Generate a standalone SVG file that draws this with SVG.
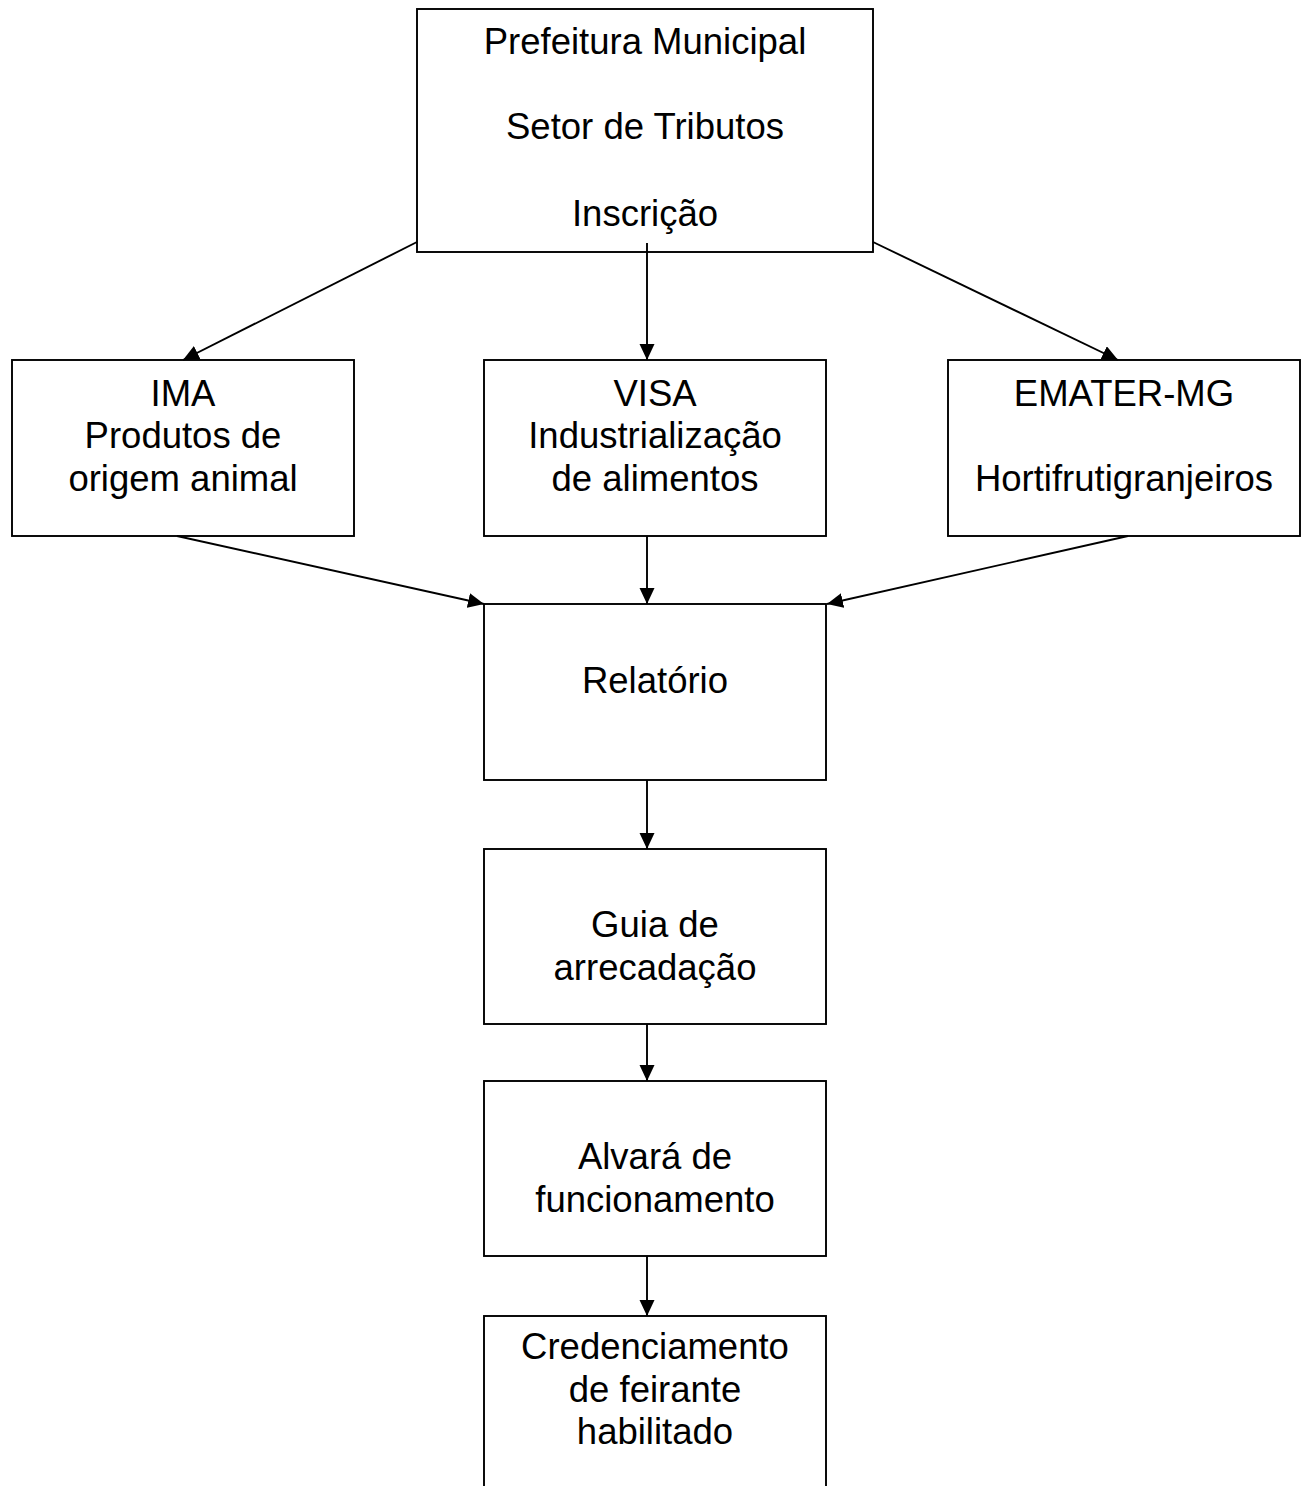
<svg xmlns="http://www.w3.org/2000/svg" width="1305" height="1486" viewBox="0 0 1305 1486">
<style>
.box{fill:#fff;stroke:#000;stroke-width:1.9}
.t{font-family:"Liberation Sans",Arial,sans-serif;font-size:36.5px;fill:#000;text-anchor:middle}
.c{stroke:#000;stroke-width:1.9;fill:none;marker-end:url(#ah)}
</style>
<defs>
<marker id="ah" markerUnits="userSpaceOnUse" markerWidth="18" markerHeight="16" refX="16" refY="7.5" orient="auto">
<path d="M0,0 L16,7.5 L0,15 Z" fill="#000"/>
</marker>
</defs>
<rect width="1305" height="1486" fill="#fff"/>
<g id="n-prefeitura">
<rect class="box" x="417" y="9" width="456" height="243"/>
<text class="t" x="645" y="54">Prefeitura Municipal</text>
<text class="t" x="645" y="139">Setor de Tributos</text>
<text class="t" x="645" y="226">Inscrição</text>
</g>
<g id="n-ima">
<rect class="box" x="12" y="360" width="342" height="176"/>
<text class="t" x="183" y="406">IMA</text>
<text class="t" x="183" y="448">Produtos de</text>
<text class="t" x="183" y="491">origem animal</text>
</g>
<g id="n-visa">
<rect class="box" x="484" y="360" width="342" height="176"/>
<text class="t" x="655" y="406">VISA</text>
<text class="t" x="655" y="448">Industrialização</text>
<text class="t" x="655" y="491">de alimentos</text>
</g>
<g id="n-emater">
<rect class="box" x="948" y="360" width="352" height="176"/>
<text class="t" x="1124" y="406">EMATER-MG</text>
<text class="t" x="1124" y="491">Hortifrutigranjeiros</text>
</g>
<g id="n-relatorio">
<rect class="box" x="484" y="604" width="342" height="176"/>
<text class="t" x="655" y="693">Relatório</text>
</g>
<g id="n-guia">
<rect class="box" x="484" y="849" width="342" height="175"/>
<text class="t" x="655" y="937">Guia de</text>
<text class="t" x="655" y="980">arrecadação</text>
</g>
<g id="n-alvara">
<rect class="box" x="484" y="1081" width="342" height="175"/>
<text class="t" x="655" y="1169">Alvará de</text>
<text class="t" x="655" y="1212">funcionamento</text>
</g>
<g id="n-credenciamento">
<rect class="box" x="484" y="1316" width="342" height="190"/>
<text class="t" x="655" y="1359">Credenciamento</text>
<text class="t" x="655" y="1402">de feirante</text>
<text class="t" x="655" y="1444">habilitado</text>
</g>
<g id="connectors">
<line class="c" x1="417" y1="242" x2="183" y2="360"/>
<line class="c" x1="647" y1="243" x2="647" y2="360"/>
<line class="c" x1="873" y1="242" x2="1118" y2="360"/>
<line class="c" x1="177" y1="536" x2="484" y2="604"/>
<line class="c" x1="647" y1="536" x2="647" y2="604"/>
<line class="c" x1="1128" y1="536" x2="827" y2="604"/>
<line class="c" x1="647" y1="780" x2="647" y2="849"/>
<line class="c" x1="647" y1="1024" x2="647" y2="1081"/>
<line class="c" x1="647" y1="1256" x2="647" y2="1316"/>
</g>
</svg>
